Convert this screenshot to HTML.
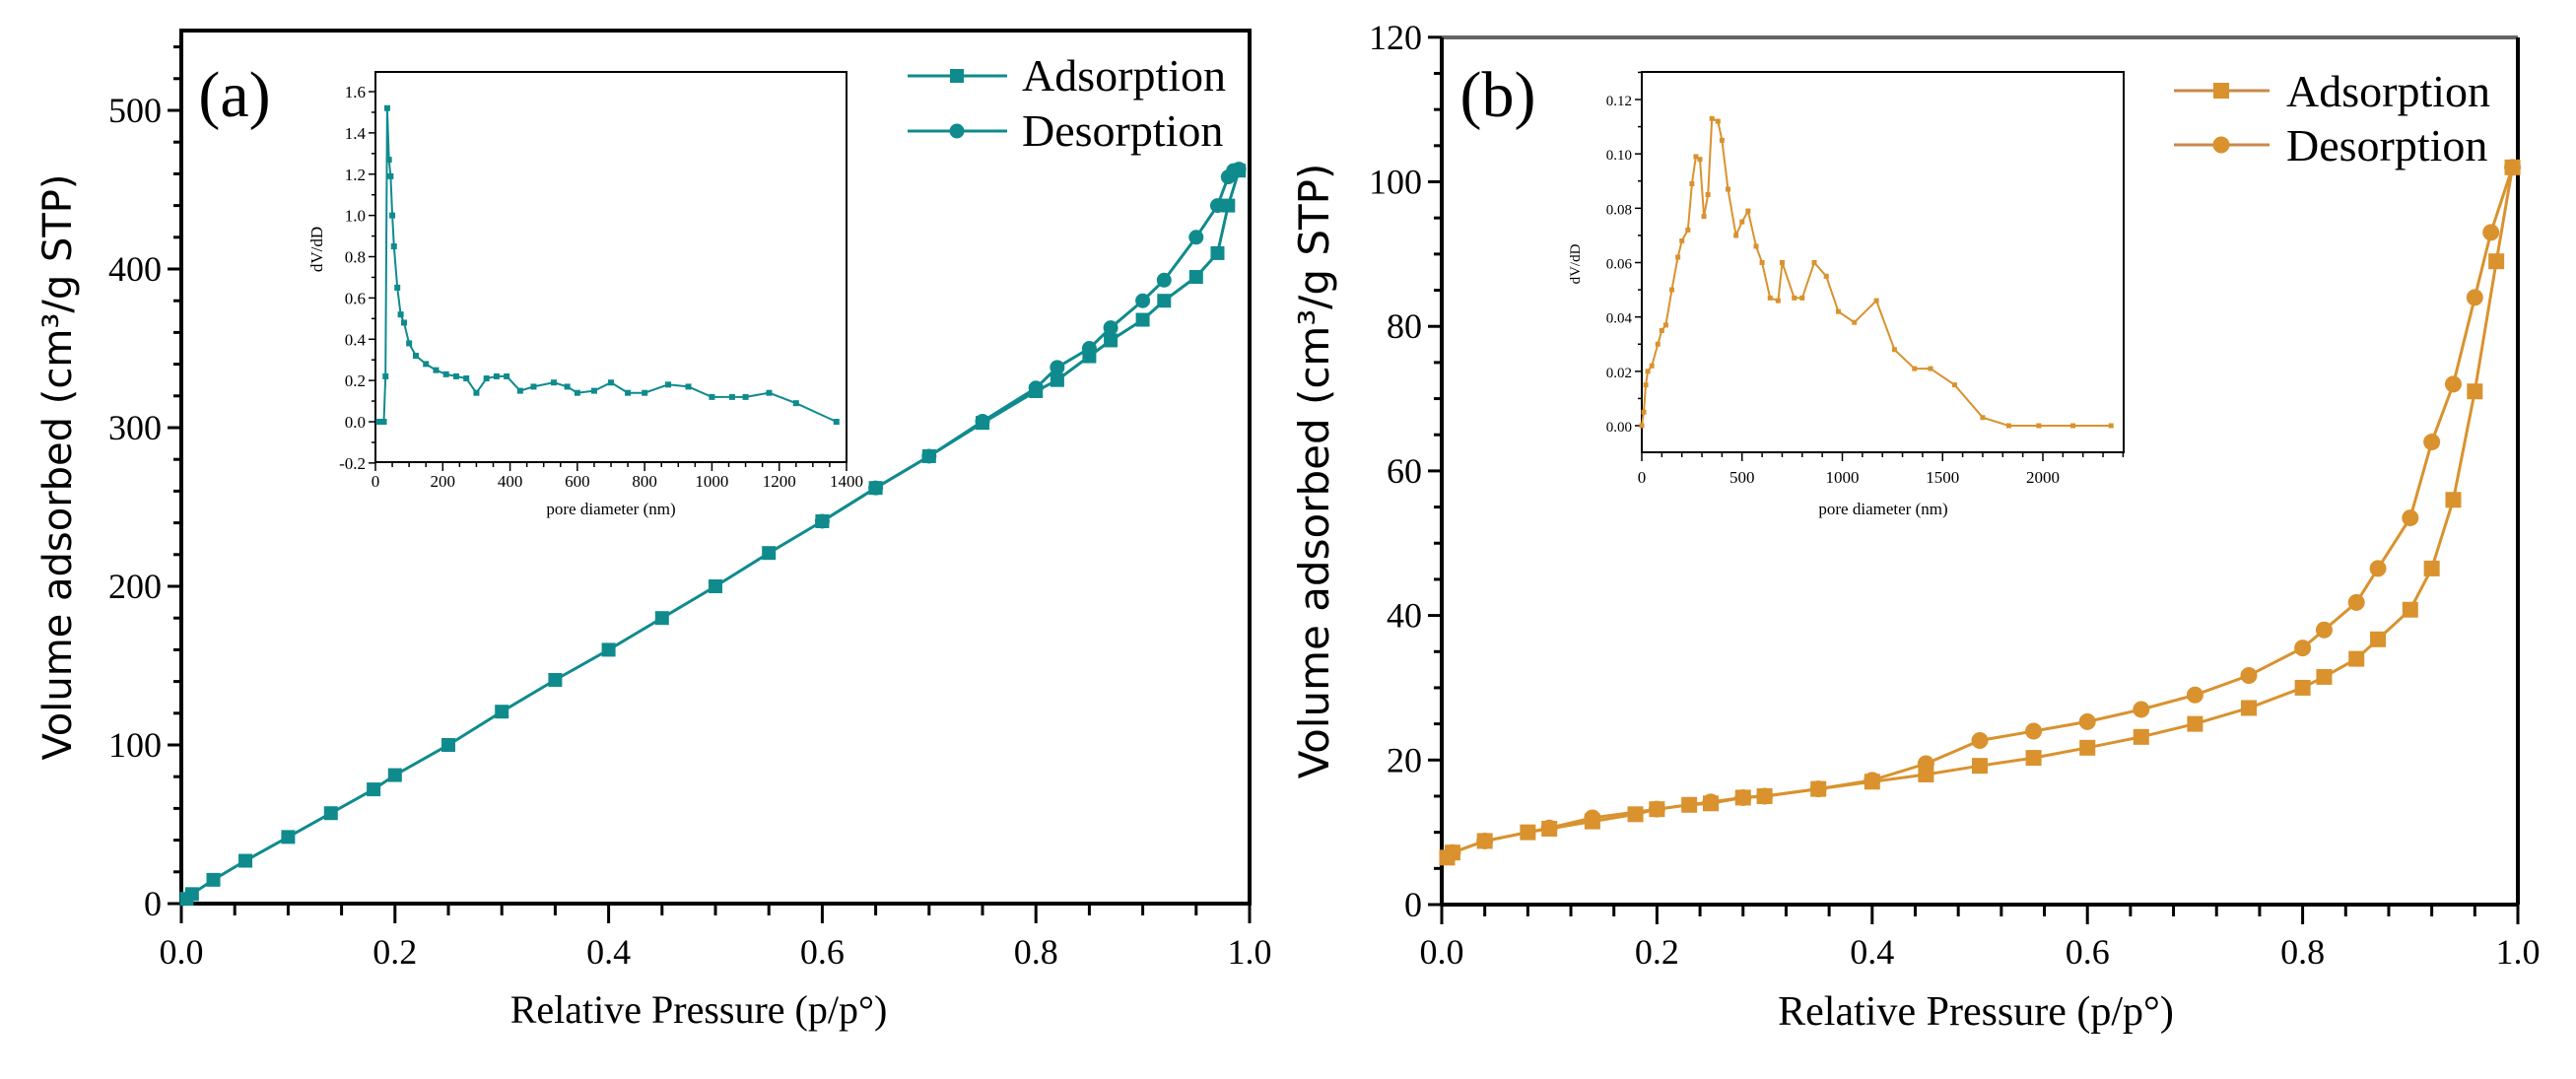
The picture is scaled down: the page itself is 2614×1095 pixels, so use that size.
<!DOCTYPE html>
<html><head><meta charset="utf-8">
<style>
html,body{margin:0;padding:0;background:#fff;}
svg{display:block;}
text{font-family:"Liberation Serif",serif;fill:#000;}
.sans{font-family:"DejaVu Sans","Liberation Sans",sans-serif;}
</style></head>
<body>
<svg id="chart" width="2614" height="1095" viewBox="0 0 2614 1095" xmlns="http://www.w3.org/2000/svg"></svg>
<script>
// ---- Panel (a) data ----
const aAdsX = [0.005,0.01,0.03,0.06,0.1,0.14,0.18,0.2,0.25,0.3,0.35,0.4,0.45,0.5,0.55,0.6,0.65,0.7,0.75,0.8,0.82,0.85,0.87,0.9,0.92,0.95,0.97,0.98,0.99];
const aAdsY = [3,6,15,27,42,57,72,81,100,121,141,160,180,200,221,241,262,282,303,323,330,345,355,368,380,395,410,440,462];
const aDesX = [0.99,0.985,0.98,0.97,0.95,0.92,0.9,0.87,0.85,0.82,0.8,0.75,0.7,0.65,0.6];
const aDesY = [463,462,458,440,420,393,380,363,350,338,325,304,282,262,241];
const aTicksX = ["0.0","0.2","0.4","0.6","0.8","1.0"];
const aTicksY = ["0","100","200","300","400","500"];
// ---- Inset (a) data ----
const iaX = [10,25,30,35,40,45,50,55,65,75,85,100,120,150,180,210,240,270,300,330,360,390,430,470,530,570,600,650,700,750,800,870,930,1000,1060,1100,1170,1250,1370];
const iaY = [0,0,0.22,1.52,1.27,1.19,1.0,0.85,0.65,0.52,0.48,0.38,0.32,0.28,0.25,0.23,0.22,0.21,0.14,0.21,0.22,0.22,0.15,0.17,0.19,0.17,0.14,0.15,0.19,0.14,0.14,0.18,0.17,0.12,0.12,0.12,0.14,0.09,0.0];
const iaTicksX = ["0","200","400","600","800","1000","1200","1400"];
const iaTicksY = ["-0.2","0.0","0.2","0.4","0.6","0.8","1.0","1.2","1.4","1.6"];
// ---- Panel (b) data ----
const bAdsX = [0.005,0.01,0.04,0.08,0.1,0.14,0.18,0.2,0.23,0.25,0.28,0.3,0.35,0.4,0.45,0.5,0.55,0.6,0.65,0.7,0.75,0.8,0.82,0.85,0.87,0.9,0.92,0.94,0.96,0.98,0.995];
const bAdsY = [6.5,7.2,8.8,10,10.5,11.5,12.5,13.2,13.8,14,14.8,15,16,17,18,19.2,20.3,21.7,23.2,25,27.2,30,31.5,34,36.7,40.8,46.5,56,71,89,102];
const bDesX = [0.995,0.975,0.96,0.94,0.92,0.9,0.87,0.85,0.82,0.8,0.75,0.7,0.65,0.6,0.55,0.5,0.45,0.4,0.35,0.3,0.28,0.25,0.2,0.14,0.1,0.04,0.01];
const bDesY = [102,93,84,72,64,53.5,46.5,41.8,38,35.5,31.7,29,27,25.3,24,22.7,19.5,17.2,16,15,14.8,14.2,13.2,12,10.6,8.8,7.2];
const bTicksX = ["0.0","0.2","0.4","0.6","0.8","1.0"];
const bTicksY = ["0","20","40","60","80","100","120"];
// ---- Inset (b) data ----
const ibX = [0,10,20,30,50,80,100,120,150,180,200,230,250,270,290,310,330,350,380,400,430,470,500,530,570,600,640,680,700,760,800,860,920,980,1060,1170,1260,1360,1440,1560,1700,1830,1980,2150,2340];
const ibY = [0,0.005,0.015,0.02,0.022,0.03,0.035,0.037,0.05,0.062,0.068,0.072,0.089,0.099,0.098,0.077,0.085,0.113,0.112,0.105,0.087,0.07,0.075,0.079,0.066,0.06,0.047,0.046,0.06,0.047,0.047,0.06,0.055,0.042,0.038,0.046,0.028,0.021,0.021,0.015,0.003,0,0,0,0];
const ibTicksX = ["0","500","1000","1500","2000"];
const ibTicksY = ["0.00","0.02","0.04","0.06","0.08","0.10","0.12"];

const NS="http://www.w3.org/2000/svg";
const svg=document.getElementById('chart');
function mk(tag,attrs,parent){const e=document.createElementNS(NS,tag);for(const k in attrs)e.setAttribute(k,attrs[k]);(parent||svg).appendChild(e);return e;}
function lin(d0,d1,p0,p1){return v=>p0+(v-d0)*(p1-p0)/(d1-d0);}

function axesBox(g,L,T,R,B,sw){
  const r=mk('rect',{x:L,y:T,width:R-L,height:B-T,fill:'none',stroke:'#000','stroke-width':sw},g);
  
  
}
function txt(g,x,y,s,size,anchor,cls){
  const t=mk('text',{x:x,y:y,'font-size':size,'text-anchor':anchor||'middle'},g);
  if(cls)t.setAttribute('class',cls);
  t.textContent=s;return t;
}
function series(g,xs,ys,sx,sy,color,marker,msz,lw,name){
  const sg=mk('g',{},g);
  
  
  let d='';
  for(let i=0;i<xs.length;i++){d+=(i?'L':'M')+sx(xs[i]).toFixed(1)+' '+sy(ys[i]).toFixed(1);}
  mk('path',{d:d,fill:'none',stroke:color,'stroke-width':lw},sg);
  for(let i=0;i<xs.length;i++){
    const cx=sx(xs[i]),cy=sy(ys[i]);
    let m;
    if(marker==='sq') m=mk('rect',{x:cx-msz/2,y:cy-msz/2,width:msz,height:msz,fill:color},sg);
    else m=mk('circle',{cx:cx,cy:cy,r:msz/2,fill:color},sg);
    
    
  }
}

// ================= Panel A =================
(function(){
  const g=mk('g',{});
  
  
  const L=184,R=1268,T=31,B=917;
  const sx=lin(0,1,L,R), sy=lin(0,100,B,B-161);
  axesBox(g,L,T,R,B,4);
  for(let i=0;i<=20;i++){const x=sx(i/20);mk('line',{x1:x,y1:B,x2:x,y2:B+(i%4===0?20:12),stroke:'#000','stroke-width':3},g);}
  aTicksX.forEach(s=>{const t=txt(g,sx(parseFloat(s)),978,s,36);});
  for(let v=0;v<=540;v+=20){const y=sy(v);mk('line',{x1:L,y1:y,x2:L-(v%100===0?14:8),y2:y,stroke:'#000','stroke-width':3},g);}
  aTicksY.forEach(s=>{const t=txt(g,L-20,sy(parseFloat(s))+12,s,36,'end');});
  const xt=txt(g,709,1038,'Relative Pressure (p/p°)',40);
  
  const yt=txt(g,0,0,'Volume adsorbed (cm³/g STP)',40,'middle','sans');
  yt.setAttribute('transform','translate(72,474) rotate(-90)');
  
  const lab=txt(g,238,118,'(a)',66);
  
  const c='#0f8b8d';
  series(g,aAdsX,aAdsY,sx,sy,c,'sq',14,3,'adsorption-series-a');
  series(g,aDesX,aDesY,sx,sy,c,'circle',15,3,'desorption-series-a');
  const lg=mk('g',{},g);
  mk('line',{x1:921,y1:77,x2:1022,y2:77,stroke:c,'stroke-width':3},lg);mk('rect',{x:964,y:70,width:14,height:14,fill:c},lg);
  txt(lg,1037,92,'Adsorption',46,'start');
  mk('line',{x1:921,y1:133,x2:1022,y2:133,stroke:c,'stroke-width':3},lg);mk('circle',{cx:971,cy:133,r:7.5,fill:c},lg);
  txt(lg,1037,148,'Desorption',46,'start');
  const ig=mk('g',{},g);
  const iL=381,iR=859,iT=73,iB=469;
  const ix=lin(0,1400,iL,iR), iy=lin(0,1.6,428,93);
  mk('rect',{x:iL,y:iT,width:iR-iL,height:iB-iT,fill:'#fff',stroke:'#000','stroke-width':2},ig);
  for(let v=0;v<=1400;v+=50){const x=ix(v);mk('line',{x1:x,y1:iB,x2:x,y2:iB+(v%200===0?9:5),stroke:'#000','stroke-width':1.5},ig);}
  for(let k=-2;k<=16;k++){const y=iy(k/10);mk('line',{x1:iL,y1:y,x2:iL-(k%2===0?7:4),y2:y,stroke:'#000','stroke-width':1.5},ig);}
  iaTicksX.forEach(s=>txt(ig,ix(+s),494,s,17));
  iaTicksY.forEach(s=>txt(ig,iL-10,iy(+s)+6,s,17,'end'));
  txt(ig,620,522,'pore diameter (nm)',17);
  const iyl=txt(ig,0,0,'dV/dD',17);iyl.setAttribute('transform','translate(327,253) rotate(-90)');
  series(ig,iaX,iaY,ix,iy,c,'sq',6,2,'inset-a-series');
})();

// ================= Panel B =================
(function(){
  const g=mk('g',{});
  
  
  const L=1463,R=2555,T=38,B=918;
  const sx=lin(0,1,L,R), sy=lin(0,20,B,B-146.7);
  mk('line',{x1:L,y1:T,x2:R,y2:T,stroke:'#666','stroke-width':4},g);
  mk('line',{x1:L,y1:T,x2:L,y2:B,stroke:'#000','stroke-width':4},g);
  mk('line',{x1:R,y1:T,x2:R,y2:B,stroke:'#000','stroke-width':4},g);
  mk('line',{x1:L,y1:B,x2:R,y2:B,stroke:'#000','stroke-width':4},g);
  for(let i=0;i<=25;i++){const x=sx(i/25);mk('line',{x1:x,y1:B,x2:x,y2:B+(i%5===0?20:12),stroke:'#000','stroke-width':3},g);}
  bTicksX.forEach(s=>{const t=txt(g,sx(parseFloat(s)),978,s,36);});
  for(let v=0;v<=120;v+=5){const y=sy(v);mk('line',{x1:L,y1:y,x2:L-(v%20===0?14:8),y2:y,stroke:'#000','stroke-width':3},g);}
  bTicksY.forEach(s=>{const t=txt(g,L-20,sy(parseFloat(s))+12,s,36,'end');});
  const xt=txt(g,2005,1040,'Relative Pressure (p/p°)',42);
  
  const yt=txt(g,0,0,'Volume adsorbed (cm³/g STP)',42,'middle','sans');
  yt.setAttribute('transform','translate(1348,478) rotate(-90)');
  
  const lab=txt(g,1520,118,'(b)',66);
  
  const c='#d9922e', lc='#c8894a';
  series(g,bAdsX,bAdsY,sx,sy,c,'sq',16,3,'adsorption-series-b');
  series(g,bDesX,bDesY,sx,sy,c,'circle',17,3,'desorption-series-b');
  const lg=mk('g',{},g);
  mk('line',{x1:2206,y1:92,x2:2303,y2:92,stroke:lc,'stroke-width':3},lg);mk('rect',{x:2246,y:84,width:16,height:16,fill:c},lg);
  txt(lg,2320,108,'Adsorption',46,'start');
  mk('line',{x1:2206,y1:147,x2:2303,y2:147,stroke:lc,'stroke-width':3},lg);mk('circle',{cx:2254,cy:147,r:8.5,fill:c},lg);
  txt(lg,2320,163,'Desorption',46,'start');
  const ig=mk('g',{},g);
  const iL=1666,iR=2155,iT=73,iB=459;
  const ix=lin(0,2000,iL,2073), iy=lin(0,0.12,432,101);
  mk('rect',{x:iL,y:iT,width:iR-iL,height:iB-iT,fill:'#fff',stroke:'#000','stroke-width':2},ig);
  for(let v=0;v<=2400;v+=100){const x=ix(v);if(x>iR)break;mk('line',{x1:x,y1:iB,x2:x,y2:iB+(v%500===0?9:5),stroke:'#000','stroke-width':1.5},ig);}
  for(let k=0;k<=13;k++){const y=iy(k/100);mk('line',{x1:iL,y1:y,x2:iL-(k%2===0?7:4),y2:y,stroke:'#000','stroke-width':1.5},ig);}
  ibTicksX.forEach(s=>txt(ig,ix(+s),490,s,17));
  ibTicksY.forEach(s=>txt(ig,iL-10,iy(+s)+6,s,15,'end'));
  txt(ig,1911,522,'pore diameter (nm)',17);
  const iyl=txt(ig,0,0,'dV/dD',15);iyl.setAttribute('transform','translate(1603,268) rotate(-90)');
  series(ig,ibX,ibY,ix,iy,c,'sq',5,2,'inset-b-series');
})();
</script>
</body></html>
